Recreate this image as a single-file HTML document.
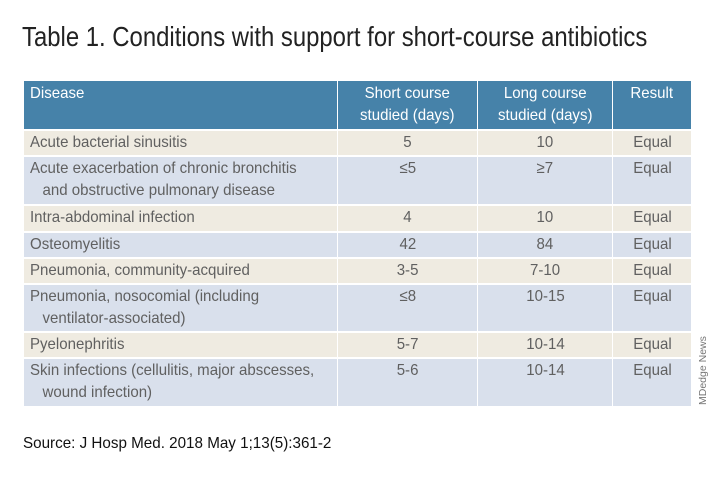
<!DOCTYPE html>
<html><head><meta charset="utf-8"><style>
body{margin:0;width:720px;height:480px;background:#fff;position:relative;overflow:hidden;font-family:"Liberation Sans Narrow","Liberation Sans",sans-serif;}
.title{position:absolute;left:22px;top:21px;font-size:28px;color:#222;white-space:nowrap;transform:scaleX(0.853);transform-origin:0 0}
.c{position:absolute;box-sizing:border-box;font-size:16px;color:#606060;padding:4px 6px;line-height:22px;white-space:nowrap}
.c span{display:inline-block;transform:scaleX(0.94);transform-origin:0 0}
.ctr span{transform-origin:50% 0}
.h{background:#4682a9;color:#fff}
.b{background:#efebe1}
.g{background:#d9e0ec}
.ctr{text-align:center}
.src{position:absolute;left:23px;top:435px;font-size:16px;color:#111;white-space:nowrap;transform:scaleX(0.95);transform-origin:0 0}
.wm{position:absolute;left:697px;top:405px;transform:rotate(-90deg);transform-origin:0 0;font-family:"Liberation Sans",sans-serif;font-size:10.5px;color:#777;white-space:nowrap}
</style></head><body>
<div class="title">Table 1. Conditions with support for short-course antibiotics</div>
<div id="t"></div>
<div class="src">Source: J Hosp Med. 2018 May 1;13(5):361-2</div>
<div class="wm">MDedge News</div>
<script>
var cols=[[24,337],[338,477],[478,612],[613,691]];
var rows=[
[81,129,"h",["Disease","Short course<br>studied (days)","Long course<br>studied (days)","Result"]],
[131,155,"b",["Acute bacterial sinusitis","5","10","Equal"]],
[157,204,"g",["Acute exacerbation of chronic bronchitis<br>&nbsp;&nbsp;&nbsp;and obstructive pulmonary disease","&le;5","&ge;7","Equal"]],
[206,231,"b",["Intra-abdominal infection","4","10","Equal"]],
[233,257,"g",["Osteomyelitis","42","84","Equal"]],
[259,283,"b",["Pneumonia, community-acquired","3-5","7-10","Equal"]],
[285,331,"g",["Pneumonia, nosocomial (including<br>&nbsp;&nbsp;&nbsp;ventilator-associated)","&le;8","10-15","Equal"]],
[333,357,"b",["Pyelonephritis","5-7","10-14","Equal"]],
[359,406,"g",["Skin infections (cellulitis, major abscesses,<br>&nbsp;&nbsp;&nbsp;wound infection)","5-6","10-14","Equal"]]];
var h="";
rows.forEach(function(r){for(var i=0;i<4;i++){var c=cols[i];
h+='<div class="c '+r[2]+(i?' ctr':'')+'" style="left:'+c[0]+'px;top:'+r[0]+'px;width:'+(c[1]-c[0])+'px;height:'+(r[1]-r[0])+'px;'+(r[2]=="h"?'padding-top:2px;':'padding-top:1px;')+'"><span>'+r[3][i]+'</span></div>';}});
document.getElementById("t").innerHTML=h;
</script>
</body></html>
